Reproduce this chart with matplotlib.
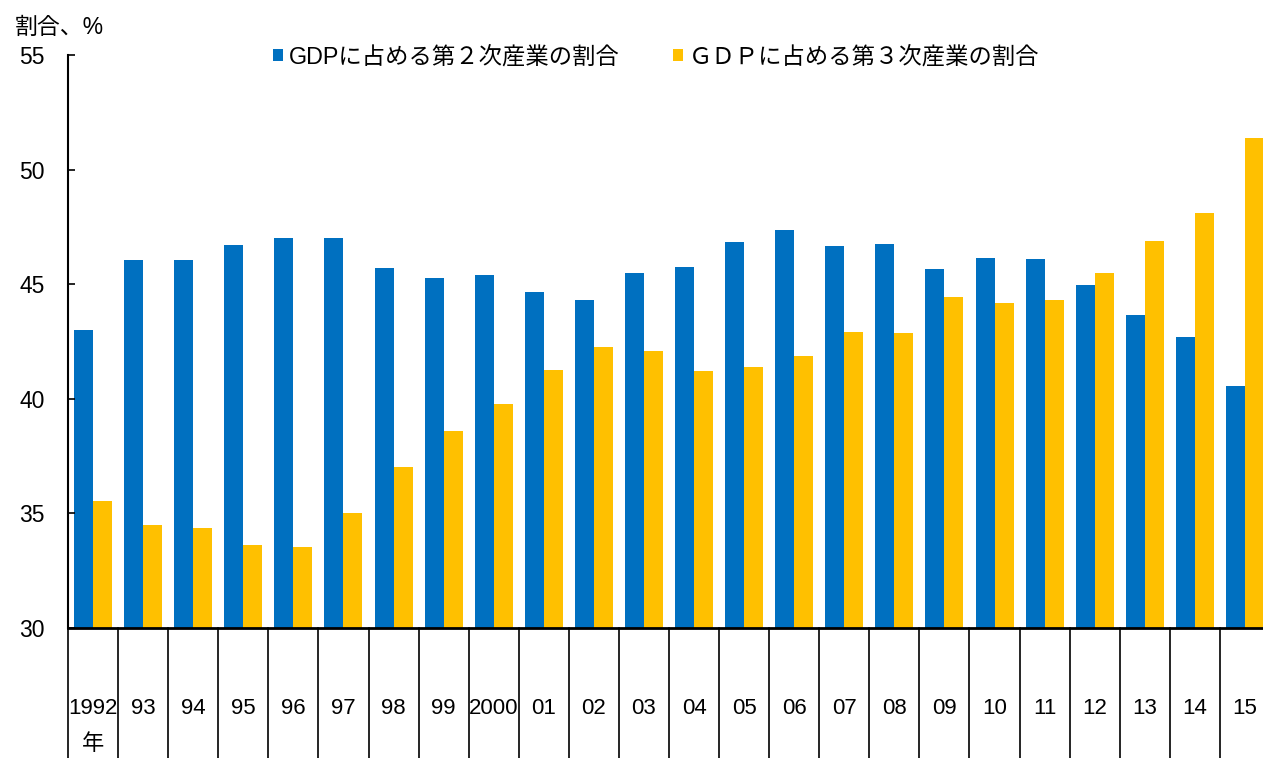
import matplotlib
matplotlib.use("Agg")
import matplotlib.pyplot as plt
from matplotlib.patches import Patch
import matplotlib.transforms as mtransforms

plt.rcParams['font.family'] = ['Liberation Sans', 'Noto Sans CJK JP', 'DejaVu Sans']

years = ["1992", "93", "94", "95", "96", "97", "98", "99", "2000", "01", "02", "03",
         "04", "05", "06", "07", "08", "09", "10", "11", "12", "13", "14", "15"]
secondary = [43.0, 46.06, 46.06, 46.7, 47.0, 47.0, 45.7, 45.25, 45.4, 44.68, 44.3, 45.5,
             45.75, 46.84, 47.37, 46.68, 46.75, 45.66, 46.14, 46.1, 44.95, 43.66, 42.7, 40.56]
tertiary = [35.55, 34.49, 34.36, 33.62, 33.53, 35.0, 37.02, 38.6, 39.78, 41.24, 42.27, 42.08,
            41.22, 41.39, 41.87, 42.91, 42.87, 44.43, 44.18, 44.3, 45.49, 46.9, 48.1, 51.4]
label2 = "GDPに占める第２次産業の割合"
label3 = "ＧＤＰに占める第３次産業の割合"
blue = "#0070C0"
yellow = "#FFC000"

W, H = 1263, 758
fig = plt.figure(figsize=(W / 100, H / 100), dpi=100)
ax_left, ax_right = 68, 1270
ax_top, ax_bottom = 55, 628
ax = fig.add_axes([ax_left / W, (H - ax_bottom) / H, (ax_right - ax_left) / W, (ax_bottom - ax_top) / H])

x = list(range(len(years)))
bw = 0.38
ax.bar([i - bw / 2 for i in x], [v - 30 for v in secondary], bottom=30, width=bw, color=blue)
ax.bar([i + bw / 2 for i in x], [v - 30 for v in tertiary], bottom=30, width=bw, color=yellow)

ax.set_xlim(-0.5, len(years) - 0.5)
ax.set_ylim(30, 55)
ax.set_yticks([30, 35, 40, 45, 50, 55])
ax.tick_params(axis='y', direction='in', length=5, width=1.2, pad=17, labelsize=16.5)
ax.set_xticks([])
for s in ['top', 'right']:
    ax.spines[s].set_visible(False)
ax.spines['left'].set_linewidth(1.5)
ax.spines['bottom'].set_linewidth(2.0)

# category separator lines below the axis
trans = mtransforms.blended_transform_factory(ax.transData, ax.transAxes)
h_ax = ax_bottom - ax_top
for i in range(len(years) + 1):
    ax.plot([i - 0.5, i - 0.5], [0, -(H - ax_bottom + 10) / h_ax], color='black', lw=1.2,
            transform=trans, clip_on=False)
for i, yl in enumerate(years):
    ax.text(i, -80 / h_ax, yl, transform=trans, ha='center', va='center', fontsize=16)
ax.text(0, -117 / h_ax, "年", transform=trans, ha='center', va='center', fontsize=16)

fig.text(15 / W, 1 - 27 / H, "割合、%", ha='left', va='center', fontsize=16.5)

handles = [Patch(facecolor=blue, edgecolor='none', label=label2),
           Patch(facecolor=yellow, edgecolor='none', label=label3)]
fig.legend(handles=handles, loc='center', bbox_to_anchor=(656 / W, 1 - 57 / H), ncol=2,
           frameon=False, fontsize=16.8, handlelength=0.42, handleheight=0.42,
           handletextpad=0.25, columnspacing=2.3, borderpad=0)

fig.savefig("out.png", dpi=100)
